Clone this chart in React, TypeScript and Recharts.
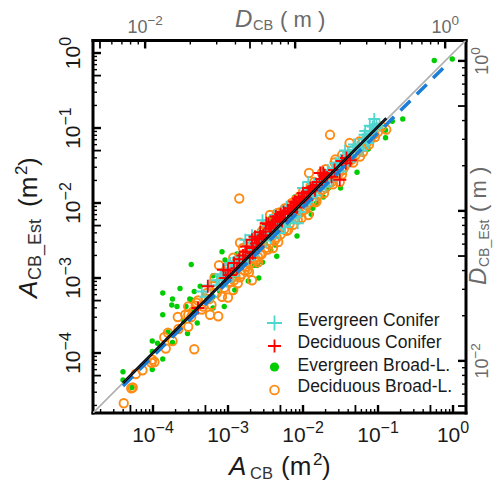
import React from "react";
import { ScatterChart, Scatter, XAxis, YAxis, Legend } from "recharts";

type Pair = [number, number];

// log10(A_CB), log10(A_CB_Est)
const EVERGREEN_CONIFER: Pair[] = [
  [-3.35,-3.18],[-2.97,-2.80],[-2.95,-2.87],[-3.00,-2.83],[-2.87,-2.73],[-3.15,-3.03],[-3.07,-2.98],[-2.75,-2.76],
  [-3.22,-3.25],[-2.71,-2.53],[-2.54,-2.23],[-2.07,-2.27],[-2.37,-2.16],[-2.22,-2.05],[-2.00,-1.80],[-2.15,-2.20],
  [-2.27,-2.29],[-2.08,-2.03],[-1.91,-1.83],[-2.51,-2.38],[-2.68,-2.43],[-2.77,-2.49],[-2.33,-2.33],[-1.05,-0.88],
  [-1.11,-0.97],[-1.18,-1.09],[-1.93,-1.72],[-1.27,-1.25],[-1.42,-1.38],[-1.60,-1.54],[-1.69,-1.65],[-1.82,-1.83],
  [-1.56,-1.47],[-1.33,-1.29],[-1.02,-1.00],[-1.09,-1.05],[-2.13,-2.13],[-2.65,-2.60],[-2.60,-2.50],[-2.58,-2.42],
  [-2.45,-2.38],[-2.40,-2.38],[-2.35,-2.30],[-2.28,-2.20],[-2.20,-2.15],[-2.18,-2.25],[-2.05,-2.05],[-2.02,-1.95],
  [-1.97,-2.02],[-1.90,-1.92],[-1.85,-1.75],[-1.80,-1.78],[-1.75,-1.70],[-1.72,-1.75],[-1.65,-1.60],[-1.60,-1.63],
  [-1.55,-1.55],[-1.50,-1.42],[-1.47,-1.50],[-1.40,-1.33],[-1.35,-1.38],[-1.30,-1.25],[-1.25,-1.27],[-1.20,-1.15],
  [-1.15,-1.17],[-1.10,-1.08],[-1.02,-0.95],[-0.98,-0.97],[-2.85,-2.77],[-2.80,-2.72],[-2.75,-2.70],[-2.70,-2.62],
  [-2.92,-2.85],[-3.03,-2.93],
  [-3.30,-3.25],[-3.25,-3.10],[-3.12,-3.10],[-3.10,-2.95],[-3.02,-3.05],[-2.93,-2.97],[-2.90,-2.78],[-2.82,-2.82],
  [-2.72,-2.75],[-2.66,-2.70],[-2.63,-2.55],[-2.56,-2.58],[-2.50,-2.50],[-2.47,-2.40],[-2.43,-2.47],[-2.38,-2.27],
  [-2.32,-2.40],[-2.25,-2.14],[-2.24,-2.32],[-2.16,-2.08],[-2.10,-2.18],[-2.04,-2.12],[-1.99,-1.88],[-1.94,-1.99],
  [-1.88,-1.80],[-1.83,-1.90],[-1.78,-1.68],[-1.70,-1.78],[-1.67,-1.56],[-1.62,-1.70],[-1.52,-1.46],[-1.50,-1.58],
  [-1.44,-1.30],[-1.38,-1.45],[-1.32,-1.22],[-1.22,-1.30],[-1.17,-1.04],[-1.13,-1.20],[-1.07,-0.98],
];
const DECIDUOUS_CONIFER: Pair[] = [
  [-3.06,-2.89],[-3.27,-3.11],[-3.40,-3.40],[-2.75,-2.58],[-2.97,-2.96],[-2.77,-2.65],[-2.88,-2.87],[-2.67,-2.67],
  [-2.71,-2.73],[-2.68,-2.49],[-2.37,-2.25],[-2.26,-2.12],[-2.17,-2.07],[-2.06,-1.94],[-2.00,-1.87],[-2.44,-2.34],
  [-2.53,-2.43],[-2.67,-2.60],[-2.31,-2.20],[-2.13,-2.03],[-1.93,-1.85],[-2.62,-2.54],[-1.73,-1.60],[-1.62,-1.65],
  [-1.42,-1.40],[-1.84,-1.83],[-2.09,-2.00],[-2.36,-2.18],[-2.49,-2.27],[-2.64,-2.45],[-1.78,-1.72],[-1.87,-1.79],
  [-1.71,-1.63],[-1.77,-1.60],[-1.51,-1.69],[-1.37,-1.43],[-1.95,-1.96],[-2.04,-1.98],[-1.91,-1.85],[-2.57,-2.39],
  [-2.55,-2.45],[-2.50,-2.38],[-2.46,-2.28],[-2.42,-2.30],[-2.40,-2.25],[-2.34,-2.22],[-2.30,-2.15],[-2.28,-2.24],
  [-2.24,-2.14],[-2.20,-2.10],[-2.15,-2.12],[-2.11,-1.98],[-2.08,-2.06],[-2.02,-1.92],[-1.98,-1.95],[-1.90,-1.80],
  [-1.82,-1.76],[-1.75,-1.68],[-1.68,-1.66],[-1.58,-1.56],[-1.48,-1.44],[-1.43,-1.47],[-2.60,-2.58],[-2.58,-2.48],
  [-2.80,-2.70],[-2.85,-2.75],[-2.92,-2.80],[-3.00,-2.90],[-3.03,-3.00],
];
const EVERGREEN_BROAD: Pair[] = [
  [-4.40,-4.25],[-4.40,-4.36],[-4.28,-4.46],[-4.01,-4.22],[-3.87,-4.08],[-4.01,-3.84],[-3.94,-3.87],[-4.01,-3.98],
  [-3.74,-3.86],[-3.80,-3.72],[-3.54,-3.74],[-3.41,-3.60],[-3.87,-3.49],[-3.75,-3.36],[-3.68,-3.38],[-3.74,-3.28],
  [-3.87,-3.20],[-3.49,-3.29],[-3.45,-3.18],[-3.59,-3.58],[-3.47,-3.43],[-3.49,-2.82],[-3.64,-3.14],[-3.37,-3.11],
  [-3.08,-2.65],[-3.20,-2.97],[-2.73,-3.04],[-2.59,-3.00],[-2.65,-2.83],[-2.61,-2.83],[-3.05,-3.38],[-2.91,-3.16],
  [-3.04,-2.76],[-2.88,-2.68],[-3.11,-3.18],[-3.56,-3.38],[-3.51,-3.28],[-3.20,-3.40],[-2.11,-1.92],[-2.08,-2.44],
  [-2.35,-2.71],[-2.43,-2.63],[-2.54,-2.79],[-2.67,-2.77],[-2.37,-2.56],[-2.02,-2.15],[-1.89,-2.15],[-1.87,-2.07],
  [-1.82,-2.00],[-2.43,-2.20],[-0.25,-0.10],[-0.01,-0.08],[-0.67,-0.88],[-0.81,-0.91],[-0.90,-1.13],[-0.90,-1.03],
  [-1.00,-0.97],[-1.13,-1.28],[-1.28,-1.59],[-1.50,-1.80],[-1.66,-1.80],[-1.38,-1.32],[-1.73,-1.92],[-2.90,-2.97],
  [-2.50,-2.55],[-3.20,-3.25],[-2.20,-2.28],[-1.60,-1.66],
];
const DECIDUOUS_BROAD: Pair[] = [
  [-4.39,-4.67],[-4.27,-4.46],[-4.29,-4.47],[-4.23,-4.28],[-4.14,-4.23],[-4.01,-4.09],[-3.98,-4.12],[-4.02,-4.13],
  [-3.83,-3.94],[-3.85,-3.79],[-3.80,-3.73],[-3.74,-3.84],[-3.66,-3.68],[-3.67,-3.52],[-3.53,-3.65],[-3.45,-3.95],
  [-3.57,-3.49],[-3.53,-3.38],[-3.49,-3.52],[-3.43,-3.37],[-2.84,-2.53],[-3.12,-2.83],[-2.93,-2.73],[-2.80,-2.60],
  [-3.00,-3.26],[-3.13,-3.51],[-3.24,-3.49],[-3.33,-3.38],[-3.53,-3.49],[-3.42,-3.33],[-3.02,-2.93],[-3.17,-3.09],
  [-2.68,-3.03],[-2.72,-2.92],[-2.87,-3.07],[-2.93,-3.16],[-3.08,-3.25],[-3.22,-3.36],[-2.60,-2.79],[-3.47,-3.45],
  [-2.67,-2.59],[-2.85,-1.94],[-2.51,-2.29],[-2.35,-2.14],[-2.33,-2.52],[-2.40,-2.60],[-2.57,-2.69],[-2.62,-2.76],
  [-2.13,-2.29],[-2.02,-2.20],[-1.93,-2.16],[-1.82,-1.98],[-2.20,-2.36],[-2.44,-2.16],[-2.24,-2.07],[-1.64,-1.09],
  [-1.38,-1.20],[-1.57,-1.42],[-1.92,-1.60],[-0.89,-1.02],[-1.04,-1.12],[-1.25,-1.18],[-1.18,-1.25],[-1.24,-1.38],
  [-1.47,-1.56],[-1.51,-1.72],[-1.62,-1.72],[-2.33,-2.13],[-2.95,-3.00],[-2.90,-2.98],[-2.82,-2.95],[-2.78,-2.90],
  [-2.75,-2.85],[-2.70,-2.80],[-2.65,-2.75],[-2.55,-2.68],[-2.50,-2.60],[-2.45,-2.55],[-2.38,-2.50],[-2.30,-2.42],
  [-2.25,-2.35],[-2.18,-2.28],[-2.10,-2.20],[-2.05,-2.13],[-2.00,-2.10],[-1.95,-2.03],[-1.88,-1.97],[-1.80,-1.90],
  [-1.75,-1.83],[-1.70,-1.80],[-1.65,-1.73],[-1.58,-1.66],[-1.52,-1.60],[-1.45,-1.52],[-1.40,-1.46],[-1.35,-1.42],
  [-1.30,-1.36],[-1.25,-1.30],[-1.15,-1.20],[-1.10,-1.15],[-1.05,-1.08],[-2.62,-2.44],[-2.55,-2.38],[-2.48,-2.33],
  [-2.40,-2.22],[-2.30,-2.17],[-2.15,-2.00],[-2.10,-1.96],[-2.00,-1.85],[-1.85,-1.72],[-1.75,-1.60],[-1.70,-1.55],
  [-3.20,-3.10],[-3.30,-3.27],[-3.10,-3.05],[-3.05,-3.13],[-3.15,-3.20],[-3.25,-3.28],
  [-2.92,-3.03],[-2.84,-2.99],[-2.74,-2.89],[-2.60,-2.72],[-2.47,-2.62],[-2.35,-2.46],[-2.22,-2.37],[-2.07,-2.22],
  [-1.97,-2.08],[-1.84,-1.99],[-1.72,-1.87],[-1.60,-1.75],[-1.48,-1.62],[-1.33,-1.46],[-1.20,-1.32],[-1.12,-1.22],
  [-2.78,-2.68],[-2.66,-2.52],[-2.35,-2.25],[-2.26,-2.10],[-2.05,-1.92],[-1.90,-1.78],[-1.58,-1.46],[-1.48,-1.36],
  [-3.40,-3.30],[-3.35,-3.42],[-3.28,-3.20],[-3.18,-3.00],[-3.00,-2.88],[-2.98,-3.05],[-2.88,-2.78],[-2.76,-2.74],
  [-2.58,-2.55],[-2.42,-2.42],[-2.27,-2.28],[-2.12,-2.12],[-1.95,-1.92],[-1.78,-1.78],[-1.62,-1.60],[-1.42,-1.40],
  [-1.20,-1.18],[-1.00,-1.05],[-0.95,-0.98],
];
const ONE_TO_ONE: Pair[] = [[-4.8, -4.8], [0.167, 0.167]];
const FIT_BLACK: Pair[] = [[-4.4, -4.4], [-0.89, -0.87]];
const FIT_BLUE: Pair[] = [[-4.4, -4.44], [-0.09, -0.16]];

const AREA_MULTIPLES = [1, 2, 3, 4, 5, 6, 7, 8, 9];
const AREA_DECADES = [1e-5, 1e-4, 1e-3, 1e-2, 1e-1, 1];
const DIAM_MULTIPLES = [1, 2, 3, 4, 5, 6, 7, 8, 9];
const DIAM_DECADES = [1e-3, 1e-2, 1e-1];

const SERIES_NAMES = ["Evergreen Conifer", "Deciduous Conifer", "Evergreen Broad-L.", "Deciduous Broad-L."];
const COLORS = { cyan: "#4fd6cf", red: "#ff0000", green: "#00cd00", orange: "#ff8a14", blue: "#1c7ed6", gray: "#b0b0b0" };
const GREY_TEXT = "#6a6a6a";
const FONT = "'Liberation Sans', Arial, sans-serif";

const toRows = (pairs: Pair[]) => pairs.map(([x, y]) => ({ x: Math.pow(10, x), y: Math.pow(10, y) }));
const DOMAIN_X: [number, number] = [Math.pow(10, -4.8), Math.pow(10, 0.173)];
const DOMAIN_Y: [number, number] = [Math.pow(10, -4.8), Math.pow(10, 0.167)];

type TickInfo = { value: number; kind: "major" | "mid" | "minor"; label?: string };

const areaTicks: TickInfo[] = [];
AREA_DECADES.forEach((d, di) => {
  AREA_MULTIPLES.forEach((m) => {
    const v = Number((m * d).toPrecision(3));
    if (v < 2e-5 || v > 1) return;
    const exp = di - 5;
    if (m === 1) areaTicks.push({ value: v, kind: "major", label: exp === 0 ? "0" : `\u2212${-exp}` });
    else areaTicks.push({ value: v, kind: m === 5 ? "mid" : "minor" });
  });
});
const diamTicks: TickInfo[] = [];
DIAM_DECADES.forEach((d) => {
  DIAM_MULTIPLES.forEach((m) => {
    const D = Number((m * d).toPrecision(3));
    if (D < 0.005) return;
    const value = (Math.PI / 4) * D * D;
    if (D === 0.01) diamTicks.push({ value, kind: "major", label: "\u22122" });
    else if (D === 0.1) diamTicks.push({ value, kind: "major" });
    else diamTicks.push({ value, kind: m === 5 ? "mid" : "minor" });
  });
});
diamTicks.push({ value: Math.PI / 4, kind: "major", label: "0" });

const findTick = (list: TickInfo[], v: number) => {
  let best = list[0];
  list.forEach((t) => {
    if (Math.abs(Math.log(t.value / v)) < Math.abs(Math.log(best.value / v))) best = t;
  });
  return best;
};
const lenOf = (k: TickInfo["kind"]) => (k === "minor" ? 4 : 8);
const widthOf = (k: TickInfo["kind"]) => (k === "major" ? 2.4 : k === "mid" ? 1.8 : 1.4);

const HTick = (side: "bottom" | "top") => (p: any) => {
  const t = findTick(side === "bottom" ? areaTicks : diamTicks, p.payload.value);
  const dir = side === "bottom" ? -1 : 1;
  const len = lenOf(t.kind);
  const large = side === "bottom";
  return (
    <g>
      <line x1={p.x} x2={p.x} y1={p.y} y2={p.y + dir * len} stroke="#000" strokeWidth={widthOf(t.kind)} />
      {t.label && (
        <text x={p.x} y={large ? 442 : 33} textAnchor="middle" fontFamily={FONT} fontSize={large ? 21 : 18} fill={large ? "#1a1a1a" : GREY_TEXT}>
          10
          <tspan dy={large ? -9 : -8} fontSize={large ? 16 : 13.5}>{t.label}</tspan>
        </text>
      )}
    </g>
  );
};
const VTick = (side: "left" | "right") => (p: any) => {
  const t = findTick(side === "left" ? areaTicks : diamTicks, p.payload.value);
  const dir = side === "left" ? 1 : -1;
  const len = lenOf(t.kind);
  const large = side === "left";
  const bx = large ? 80 : 488.5;
  return (
    <g>
      <line y1={p.y} y2={p.y} x1={p.x} x2={p.x + dir * len} stroke="#000" strokeWidth={widthOf(t.kind)} />
      {t.label && (
        <text transform={`rotate(-90 ${bx} ${p.y})`} x={bx} y={p.y} textAnchor="middle" fontFamily={FONT} fontSize={large ? 21 : 18} fill={large ? "#1a1a1a" : GREY_TEXT}>
          10
          <tspan dy={large ? -9 : -8} fontSize={large ? 16 : 13.5}>{t.label}</tspan>
        </text>
      )}
    </g>
  );
};

const Plus = (color: string, half: number, sw: number) => (p: any) => (
  <path d={`M${p.cx - half} ${p.cy}H${p.cx + half}M${p.cx} ${p.cy - half}V${p.cy + half}`} stroke={color} strokeWidth={sw} fill="none" />
);
const Dot = (p: any) => <circle cx={p.cx} cy={p.cy} r={2.7} fill={COLORS.green} />;
const Ring = (p: any) => <circle cx={p.cx} cy={p.cy} r={4.2} fill="none" stroke={COLORS.orange} strokeWidth={1.9} />;
const NoMark = () => null;

const LegendBox = () => (
  <svg width={220} height={100} style={{ display: "block" }}>
    <path d="M11 13H26M18.5 5.5V20.5" stroke={COLORS.cyan} strokeWidth={1.8} fill="none" />
    <path d="M12 36H25M18.5 29.5V42.5" stroke={COLORS.red} strokeWidth={1.8} fill="none" />
    <circle cx={18.5} cy={57} r={4.6} fill={COLORS.green} />
    <circle cx={18.5} cy={80} r={4.4} fill="none" stroke={COLORS.orange} strokeWidth={1.8} />
    {SERIES_NAMES.map((n, i) => (
      <text key={n} x={41.5} y={[16, 38, 61, 82][i]} fontFamily={FONT} fontSize={17.5} fill="#1a1a1a">{n}</text>
    ))}
  </svg>
);

const AXIS_LINE = { stroke: "#000", strokeWidth: 3, strokeLinecap: "square" as const };

export default function App() {
  return (
    <div style={{ position: "absolute", left: 0, top: 0, width: 493, height: 483, overflow: "hidden" }}>
      <ScatterChart width={493} height={483} margin={{ top: 39.5, right: 26, bottom: 69, left: 92 }} style={{ background: "#fff" }}>
        <XAxis xAxisId="a" type="number" dataKey="x" scale="log" domain={DOMAIN_X} allowDataOverflow height={1} orientation="bottom"
          ticks={areaTicks.map((t) => t.value)} interval={0} tickSize={0} tickMargin={0} tickLine={false}
          axisLine={AXIS_LINE} tick={HTick("bottom")} />
        <XAxis xAxisId="d" type="number" dataKey="x" scale="log" domain={DOMAIN_X} allowDataOverflow height={1} orientation="top"
          ticks={diamTicks.map((t) => t.value)} interval={0} tickSize={0} tickMargin={0} tickLine={false}
          axisLine={AXIS_LINE} tick={HTick("top")} />
        <YAxis yAxisId="a" type="number" dataKey="y" scale="log" domain={DOMAIN_Y} allowDataOverflow width={1} orientation="left"
          ticks={areaTicks.map((t) => t.value)} interval={0} tickSize={0} tickMargin={0} tickLine={false}
          axisLine={AXIS_LINE} tick={VTick("left")} />
        <YAxis yAxisId="d" type="number" dataKey="y" scale="log" domain={DOMAIN_Y} allowDataOverflow width={1} orientation="right"
          ticks={diamTicks.map((t) => t.value)} interval={0} tickSize={0} tickMargin={0} tickLine={false}
          axisLine={AXIS_LINE} tick={VTick("right")} />

        <Scatter xAxisId="d" yAxisId="d" data={[]} shape={NoMark} isAnimationActive={false} legendType="none" />
        <Scatter xAxisId="a" yAxisId="a" data={toRows(ONE_TO_ONE)} shape={NoMark} line={{ stroke: COLORS.gray, strokeWidth: 1.6 }} isAnimationActive={false} legendType="none" />
        <Scatter xAxisId="a" yAxisId="a" name={SERIES_NAMES[2]} data={toRows(EVERGREEN_BROAD)} shape={Dot} isAnimationActive={false} />
        <Scatter xAxisId="a" yAxisId="a" name={SERIES_NAMES[3]} data={toRows(DECIDUOUS_BROAD)} shape={Ring} isAnimationActive={false} />
        <Scatter xAxisId="a" yAxisId="a" name={SERIES_NAMES[0]} data={toRows(EVERGREEN_CONIFER)} shape={Plus(COLORS.cyan, 6, 1.8)} isAnimationActive={false} />
        <Scatter xAxisId="a" yAxisId="a" name={SERIES_NAMES[1]} data={toRows(DECIDUOUS_CONIFER)} shape={Plus(COLORS.red, 6.5, 1.8)} isAnimationActive={false} />
        <Scatter xAxisId="a" yAxisId="a" data={toRows(FIT_BLUE)} shape={NoMark} line={{ stroke: COLORS.blue, strokeWidth: 3.5, strokeDasharray: "14 9" }} isAnimationActive={false} legendType="none" />
        <Scatter xAxisId="a" yAxisId="a" data={toRows(FIT_BLACK)} shape={NoMark} line={{ stroke: "#000", strokeWidth: 2.6 }} isAnimationActive={false} legendType="none" />
        <Scatter xAxisId="a" yAxisId="a" data={toRows(FIT_BLACK)} shape={NoMark} line={{ stroke: "#33456e", strokeWidth: 0.8 }} isAnimationActive={false} legendType="none" />

        <Legend layout="vertical" align="center" verticalAlign="middle" content={LegendBox as any}
          wrapperStyle={{ position: "absolute", left: 255.5, top: 310, width: 220, height: 100, margin: 0 }} />

        <g fontFamily={FONT}>
          <text x={229} y={475} fontSize={26} fontStyle="italic" fill="#1a1a1a">A</text>
          <text x={250} y={479} fontSize={16.5} fill="#333">CB</text>
          <text x={281} y={475} fontSize={26} fill="#1a1a1a">(m</text>
          <text x={313} y={465} fontSize={17} fill="#1a1a1a">2</text>
          <text x={322} y={475} fontSize={26} fill="#1a1a1a">)</text>

          <g transform="rotate(-90 37 298)">
            <text x={37} y={298} fontSize={26} fontStyle="italic" fill="#1a1a1a">A</text>
            <text x={55} y={302} fontSize={18} fill="#333">CB_Est</text>
            <text x={128} y={298} fontSize={26} fill="#1a1a1a">(m</text>
            <text x={160} y={288} fontSize={17} fill="#1a1a1a">2</text>
            <text x={169} y={298} fontSize={26} fill="#1a1a1a">)</text>
          </g>

          <text x={235} y={27} fontSize={24} fontStyle="italic" fill={GREY_TEXT}>D</text>
          <text x={253} y={30} fontSize={14.5} fill={GREY_TEXT}>CB</text>
          <text x={280} y={27} fontSize={22} fill={GREY_TEXT}>( m )</text>

          <g transform="rotate(-90 486 285)">
            <text x={486} y={285} fontSize={24} fontStyle="italic" fill={GREY_TEXT}>D</text>
            <text x={504} y={288} fontSize={14} fill={GREY_TEXT}>CB_Est</text>
            <text x={559} y={285} fontSize={22} fill={GREY_TEXT}>( m )</text>
          </g>
        </g>
      </ScatterChart>
    </div>
  );
}
